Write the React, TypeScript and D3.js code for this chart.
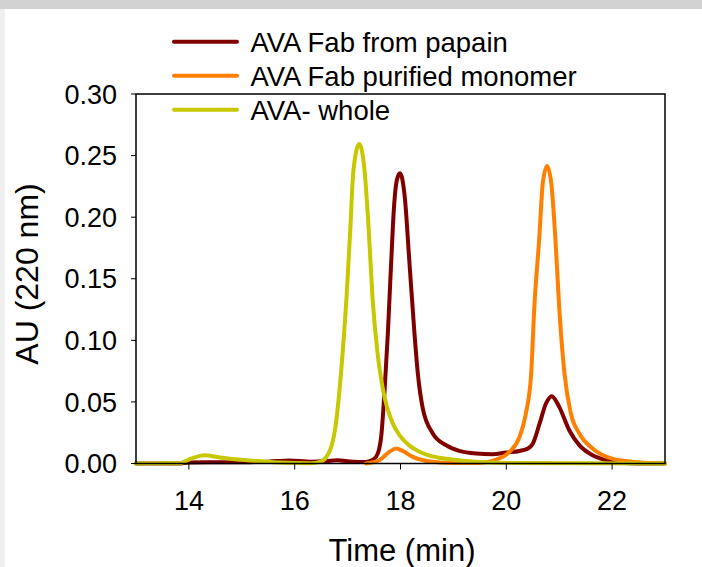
import React from "react";
import * as d3 from "d3";

const papainT = [13.0, 13.8, 14.0, 14.5, 15.0, 15.5, 15.9, 16.3, 16.6, 16.8, 17.1, 17.35, 17.48, 17.57, 17.64, 17.7, 17.76, 17.82, 17.88, 17.93, 17.99, 18.08, 18.17, 18.26, 18.33, 18.42, 18.61, 18.86, 19.11, 19.43, 19.74, 19.99, 20.25, 20.41, 20.5, 20.63, 20.75, 20.86, 21.0, 21.19, 21.38, 21.63, 21.88, 22.13, 22.5, 23.0];
const papainV = [0, 0, 0.0008, 0.001, 0.001, 0.0015, 0.0025, 0.0015, 0.002, 0.0027, 0.0015, 0.0013, 0.003, 0.008, 0.024, 0.06, 0.105, 0.16, 0.21, 0.23, 0.2356, 0.2166, 0.1625, 0.108, 0.072, 0.045, 0.0244, 0.0149, 0.0102, 0.0081, 0.0076, 0.0089, 0.0102, 0.0122, 0.016, 0.0325, 0.0487, 0.0547, 0.046, 0.027, 0.0149, 0.0067, 0.0027, 0.0008, 0, 0];

const monomerT = [17.35, 17.6, 17.79, 17.92, 18.04, 18.23, 18.49, 18.99, 19.5, 19.81, 20.06, 20.25, 20.37, 20.47, 20.53, 20.62, 20.69, 20.77, 20.85, 20.93, 21.0, 21.1, 21.22, 21.38, 21.63, 22.0, 22.5, 23.0];
const monomerV = [0, 0.0027, 0.0094, 0.0122, 0.0102, 0.0054, 0.0021, 0.0005, 0.0005, 0.0032, 0.0094, 0.0216, 0.0406, 0.073, 0.127, 0.181, 0.2275, 0.2415, 0.2275, 0.181, 0.127, 0.073, 0.0406, 0.0244, 0.0122, 0.004, 0.001, 0];

const wholeT = [13.0, 13.84, 14.0, 14.3, 14.58, 15.08, 15.71, 16.3, 16.48, 16.6, 16.76, 16.89, 16.98, 17.05, 17.11, 17.22, 17.32, 17.4, 17.47, 17.57, 17.66, 17.75, 17.85, 17.98, 18.17, 18.36, 18.5, 18.8, 19.1, 19.5, 20.0, 23.0];
const wholeV = [0, 0.0003, 0.0032, 0.0067, 0.0049, 0.0027, 0.0008, 0.0003, 0.0013, 0.0054, 0.027, 0.081, 0.135, 0.1895, 0.238, 0.2594, 0.238, 0.1895, 0.135, 0.088, 0.062, 0.045, 0.033, 0.023, 0.0145, 0.0095, 0.007, 0.0042, 0.0026, 0.0012, 0.0004, 0];

const seriesNames = ["AVA Fab from papain", "AVA Fab purified monomer", "AVA- whole"];
const seriesColors = ["#800000", "#ff8000", "#c8c800"];
const xTicks = [14, 16, 18, 20, 22];
const yTicks = [0, 0.05, 0.1, 0.15, 0.2, 0.25, 0.3];
const xTitle = "Time (min)";
const yTitle = "AU (220 nm)";

const W = 702;
const H = 567;
const left = 136;
const right = 665;
const top = 94;
const bottom = 463.5;
const FONT = "'Liberation Sans', Arial, sans-serif";

export default function App() {
  const x = d3.scaleLinear().domain([13, 23]).range([left, right]);
  const y = d3.scaleLinear().domain([0, 0.3]).range([bottom, top]);
  const line = d3
    .line<[number, number]>()
    .x((d) => x(d[0]))
    .y((d) => y(d[1]))
    .curve(d3.curveMonotoneX);

  const series = [
    d3.zip(papainT, papainV) as [number, number][],
    d3.zip(monomerT, monomerV) as [number, number][],
    d3.zip(wholeT, wholeV) as [number, number][],
  ];

  return (
    <svg
      width={W}
      height={H}
      style={{ position: "absolute", left: 0, top: 0, background: "#fff" }}
      fontFamily={FONT}
    >
      <rect x={0} y={0} width={W} height={H} fill="#fff" />
      <rect x={0} y={0} width={W} height={9} fill="#d2d2d2" />
      <rect x={0} y={9} width={5} height={H - 9} fill="#efefef" />

      {series.map((s, i) => (
        <path key={i} d={line(s) || ""} fill="none" stroke={seriesColors[i]} strokeWidth={4} strokeLinejoin="round" strokeLinecap="round" />
      ))}

      <rect x={left} y={top} width={right - left} height={bottom - top} fill="none" stroke="#000" strokeWidth={1.5} />

      {xTicks.map((t) => (
        <g key={t}>
          <line x1={x(t)} x2={x(t)} y1={bottom} y2={bottom + 6} stroke="#000" strokeWidth={1} />
          <text x={x(t)} y={510} fontSize={27} textAnchor="middle" fill="#000">
            {t}
          </text>
        </g>
      ))}
      {yTicks.map((t) => (
        <g key={t}>
          <line x1={left - 5} x2={left} y1={y(t)} y2={y(t)} stroke="#000" strokeWidth={1} />
          <text x={117} y={y(t) + 9.7} fontSize={27} textAnchor="end" fill="#000">
            {d3.format(".2f")(t)}
          </text>
        </g>
      ))}

      <text x={402} y={561} fontSize={31} textAnchor="middle" fill="#000">
        {xTitle}
      </text>
      <text transform={`translate(38, 274) rotate(-90)`} fontSize={32} textAnchor="middle" fill="#000">
        {yTitle}
      </text>

      {seriesNames.map((n, i) => {
        const cy = 41.7 + i * 34;
        return (
          <g key={n}>
            <line x1={174} x2={237} y1={cy} y2={cy} stroke={seriesColors[i]} strokeWidth={4} strokeLinecap="round" />
            <text x={250.5} y={cy + 9.8} fontSize={27.5} fill="#000">
              {n}
            </text>
          </g>
        );
      })}
    </svg>
  );
}
